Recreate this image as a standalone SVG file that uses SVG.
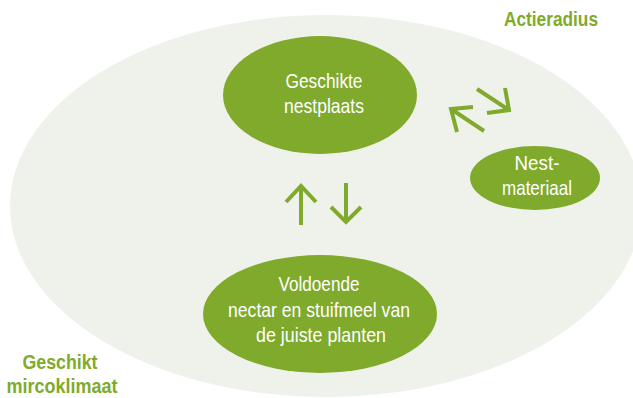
<svg xmlns="http://www.w3.org/2000/svg" width="633" height="398" viewBox="0 0 633 398">
<style>
.bg{fill:#eff2ea}
.node{fill:#80aa2c}
.nt{fill:#ffffff;font-family:"Liberation Sans",Arial,sans-serif;font-size:21px;text-anchor:middle}
.lbl{fill:#80aa2c;font-family:"Liberation Sans",Arial,sans-serif;font-size:20px;font-weight:bold;text-anchor:middle}
.arr{fill:none;stroke:#80aa2c;stroke-width:4;stroke-linecap:butt;stroke-linejoin:miter}
</style>
<rect width="633" height="398" fill="#ffffff"/>
<g id="actieradius">
<ellipse class="bg" cx="326" cy="206" rx="316" ry="191"/>
<text class="lbl" x="551" y="26" textLength="94" lengthAdjust="spacingAndGlyphs">Actieradius</text>
</g>
<g id="microklimaat">
<text class="lbl" x="60" y="369" textLength="75" lengthAdjust="spacingAndGlyphs">Geschikt</text>
<text class="lbl" x="62" y="393" textLength="111" lengthAdjust="spacingAndGlyphs">mircoklimaat</text>
</g>
<g id="nestplaats">
<ellipse class="node" cx="320" cy="95" rx="97" ry="59"/>
<text class="nt" x="324" y="88" textLength="77" lengthAdjust="spacingAndGlyphs">Geschikte</text>
<text class="nt" x="324" y="113" textLength="80" lengthAdjust="spacingAndGlyphs">nestplaats</text>
</g>
<g id="nestmateriaal">
<ellipse class="node" cx="535" cy="178" rx="65" ry="32"/>
<text class="nt" x="537" y="170" textLength="45" lengthAdjust="spacingAndGlyphs">Nest-</text>
<text class="nt" x="537" y="195" textLength="70" lengthAdjust="spacingAndGlyphs">materiaal</text>
</g>
<g id="voedsel">
<ellipse class="node" cx="320" cy="314" rx="117" ry="59"/>
<text class="nt" x="319" y="291" textLength="81" lengthAdjust="spacingAndGlyphs">Voldoende</text>
<text class="nt" x="319" y="317" textLength="182" lengthAdjust="spacingAndGlyphs">nectar en stuifmeel van</text>
<text class="nt" x="321" y="342" textLength="130" lengthAdjust="spacingAndGlyphs">de juiste planten</text>
</g>
<g id="connectors">
<path class="arr" d="M301 225 V186 M286 202 L301 186 L316 202"/>
<path class="arr" d="M346 183 V222 M331 207 L346 222 L361 207"/>
<path class="arr" d="M484 131 L451 109 M473 107 L451 109 L457 132"/>
<path class="arr" d="M477 89 L509 110 M505 88 L509 110 L487 113"/>
</g>
</svg>
